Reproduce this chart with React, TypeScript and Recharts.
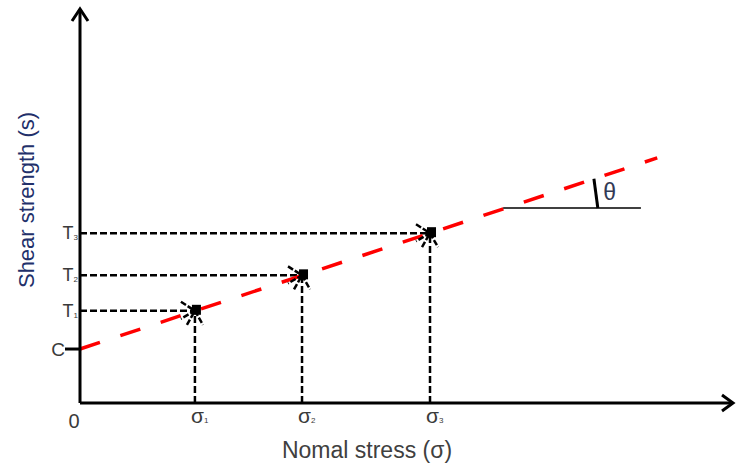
import React from 'react';
import { ComposedChart, XAxis, YAxis, Line, Scatter, ReferenceLine } from 'recharts';

// ---- data (chart units) ----
const xTickValues = [0, 1.76, 3.4, 5.36];
const xTickLabels = ['0', 'σ', 'σ', 'σ'];
const xTickSubs = ['', '1', '2', '3'];

const yTickValues = [1.37, 2.34, 3.24, 4.31];
const yTickLabels = ['C', 'T', 'T', 'T'];
const yTickSubs = ['', '1', '2', '3'];

const sigmaValues = [1.76, 3.4, 5.36];
const tauValues = [2.34, 3.24, 4.31];

const envelopeX = [0, 8.84];
const envelopeY = [1.37, 6.22];

const refLineX = [6.48, 8.59];
const refLineY = [4.95, 4.95];

const angleX = [7.93, 7.87];
const angleY = [4.95, 5.69];

const thetaX = [8.11];
const thetaY = [5.36];

const axisMax = 10;

// ---- derived tables ----
const envelopeData = envelopeX.map((x, i) => ({ x, y: envelopeY[i] }));
const refData = refLineX.map((x, i) => ({ x, y: refLineY[i] }));
const angleData = angleX.map((x, i) => ({ x, y: angleY[i] }));
const pointData = sigmaValues.map((x, i) => ({ x, y: tauValues[i] }));
const thetaData = thetaX.map((x, i) => ({ x, y: thetaY[i] }));
const yArrowData = [{ x: 0, y: axisMax }];
const xArrowData = [{ x: axisMax, y: 0 }];

const FONT = '"Liberation Sans", Arial, sans-serif';
const LABEL = '#3a3a3a';

const YTick = (props: any) => {
  const { x, y, payload } = props;
  const i = yTickValues.indexOf(payload.value);
  if (i < 0) return null;
  if (yTickLabels[i] === 'C') {
    return (
      <g>
        <line x1={x - 15} x2={x} y1={y} y2={y} stroke="#000" strokeWidth={3} />
        <text x={x - 15} y={y + 7} textAnchor="end" fontSize={19} fontFamily={FONT} fill={LABEL}>
          C
        </text>
      </g>
    );
  }
  return (
    <text x={x - 2} y={y + 6} textAnchor="end" fontSize={18} fontFamily={FONT} fill={LABEL}>
      <tspan>{yTickLabels[i]}</tspan>
      <tspan fontSize={8} dy={1}>{yTickSubs[i]}</tspan>
    </text>
  );
};

const XTick = (props: any) => {
  const { x, y, payload } = props;
  const i = xTickValues.indexOf(payload.value);
  if (i < 0) return null;
  if (i === 0) {
    return (
      <text x={x - 6} y={y + 25} textAnchor="middle" fontSize={20} fontFamily={FONT} fill={LABEL}>
        {xTickLabels[i]}
      </text>
    );
  }
  return (
    <text x={x - 4} y={y + 20} textAnchor="start" fontSize={21} fontFamily={FONT} fill={LABEL}>
      <tspan>{xTickLabels[i]}</tspan>
      <tspan fontSize={8} dy={0}>{xTickSubs[i]}</tspan>
    </text>
  );
};

const PointMark = (props: any) => {
  const { cx, cy } = props;
  if (cx == null || cy == null) return null;
  return (
    <g>
      <path
        d={`M${cx - 14},${cy - 9} L${cx},${cy} L${cx - 14},${cy + 8}`}
        fill="none"
        stroke="#000"
        strokeWidth={2.5}
        strokeDasharray="6 2"
      />
      <path
        d={`M${cx - 8},${cy + 14} L${cx},${cy} L${cx + 8},${cy + 14}`}
        fill="none"
        stroke="#000"
        strokeWidth={2.5}
        strokeDasharray="6 2"
      />
      <rect x={cx - 3} y={cy - 6} width={9} height={10} fill="#000" />
    </g>
  );
};

const UpArrow = (props: any) => {
  const { cx, cy } = props;
  if (cx == null || cy == null) return null;
  return (
    <path
      d={`M${cx - 8},${cy + 12} L${cx},${cy} L${cx + 8},${cy + 12}`}
      fill="none"
      stroke="#000"
      strokeWidth={3}
    />
  );
};

const RightArrow = (props: any) => {
  const { cx, cy } = props;
  if (cx == null || cy == null) return null;
  return (
    <path
      d={`M${cx - 11},${cy - 8} L${cx},${cy} L${cx - 11},${cy + 8}`}
      fill="none"
      stroke="#000"
      strokeWidth={3}
    />
  );
};

const ThetaMark = (props: any) => {
  const { cx, cy } = props;
  if (cx == null || cy == null) return null;
  return (
    <text x={cx} y={cy + 8} textAnchor="middle" fontSize={23} fontFamily={FONT} fill="#333a55">
      θ
    </text>
  );
};

export default function App() {
  return (
    <div style={{ position: 'absolute', left: 0, top: 0, width: 738, height: 463, background: '#fff' }}>
      <ComposedChart
        width={738}
        height={463}
        margin={{ top: 9, right: 5, bottom: 30, left: 10 }}
      >
        <XAxis
          type="number"
          dataKey="x"
          domain={[0, axisMax]}
          ticks={xTickValues}
          tick={<XTick />}
          tickLine={false}
          tickSize={0}
          tickMargin={0}
          height={30}
          axisLine={{ stroke: '#000', strokeWidth: 3 }}
          interval={0}
        />
        <YAxis
          type="number"
          dataKey="y"
          domain={[0, axisMax]}
          ticks={yTickValues}
          tick={<YTick />}
          tickLine={false}
          tickSize={0}
          tickMargin={0}
          width={70}
          axisLine={{ stroke: '#000', strokeWidth: 3 }}
          interval={0}
        />
        {sigmaValues.map((s, i) => (
          <ReferenceLine
            key={`h${i}`}
            segment={[
              { x: 0, y: tauValues[i] },
              { x: s, y: tauValues[i] },
            ]}
            stroke="#000"
            strokeWidth={2.5}
            strokeDasharray="7 3"
            ifOverflow="visible"
          />
        ))}
        {sigmaValues.map((s, i) => (
          <ReferenceLine
            key={`v${i}`}
            segment={[
              { x: s, y: 0 },
              { x: s, y: tauValues[i] },
            ]}
            stroke="#000"
            strokeWidth={2.5}
            strokeDasharray="7 3"
            ifOverflow="visible"
          />
        ))}
        <Line
          data={envelopeData}
          dataKey="y"
          stroke="#ff0000"
          strokeWidth={3.5}
          strokeDasharray="21 21.5"
          dot={false}
          activeDot={false}
          isAnimationActive={false}
        />
        <Line
          data={refData}
          dataKey="y"
          stroke="#000"
          strokeWidth={1.5}
          dot={false}
          activeDot={false}
          isAnimationActive={false}
        />
        <Line
          data={angleData}
          dataKey="y"
          stroke="#000"
          strokeWidth={3}
          dot={false}
          activeDot={false}
          isAnimationActive={false}
        />
        <Scatter data={pointData} dataKey="y" shape={<PointMark />} isAnimationActive={false} />
        <Scatter data={yArrowData} dataKey="y" shape={<UpArrow />} isAnimationActive={false} />
        <Scatter data={xArrowData} dataKey="y" shape={<RightArrow />} isAnimationActive={false} />
        <Scatter data={thetaData} dataKey="y" shape={<ThetaMark />} isAnimationActive={false} />
      </ComposedChart>
      <div
        style={{
          position: 'absolute',
          left: 27,
          top: 200,
          transform: 'translate(-50%, -50%) rotate(-90deg)',
          whiteSpace: 'nowrap',
          fontFamily: FONT,
          fontSize: 22,
          lineHeight: 1,
          color: '#22306a',
        }}
      >
        Shear strength (s)
      </div>
      <div
        style={{
          position: 'absolute',
          left: 367,
          top: 450,
          transform: 'translate(-50%, -50%)',
          whiteSpace: 'nowrap',
          fontFamily: FONT,
          fontSize: 23,
          lineHeight: 1,
          color: '#404040',
        }}
      >
        Nomal stress (σ)
      </div>
    </div>
  );
}
